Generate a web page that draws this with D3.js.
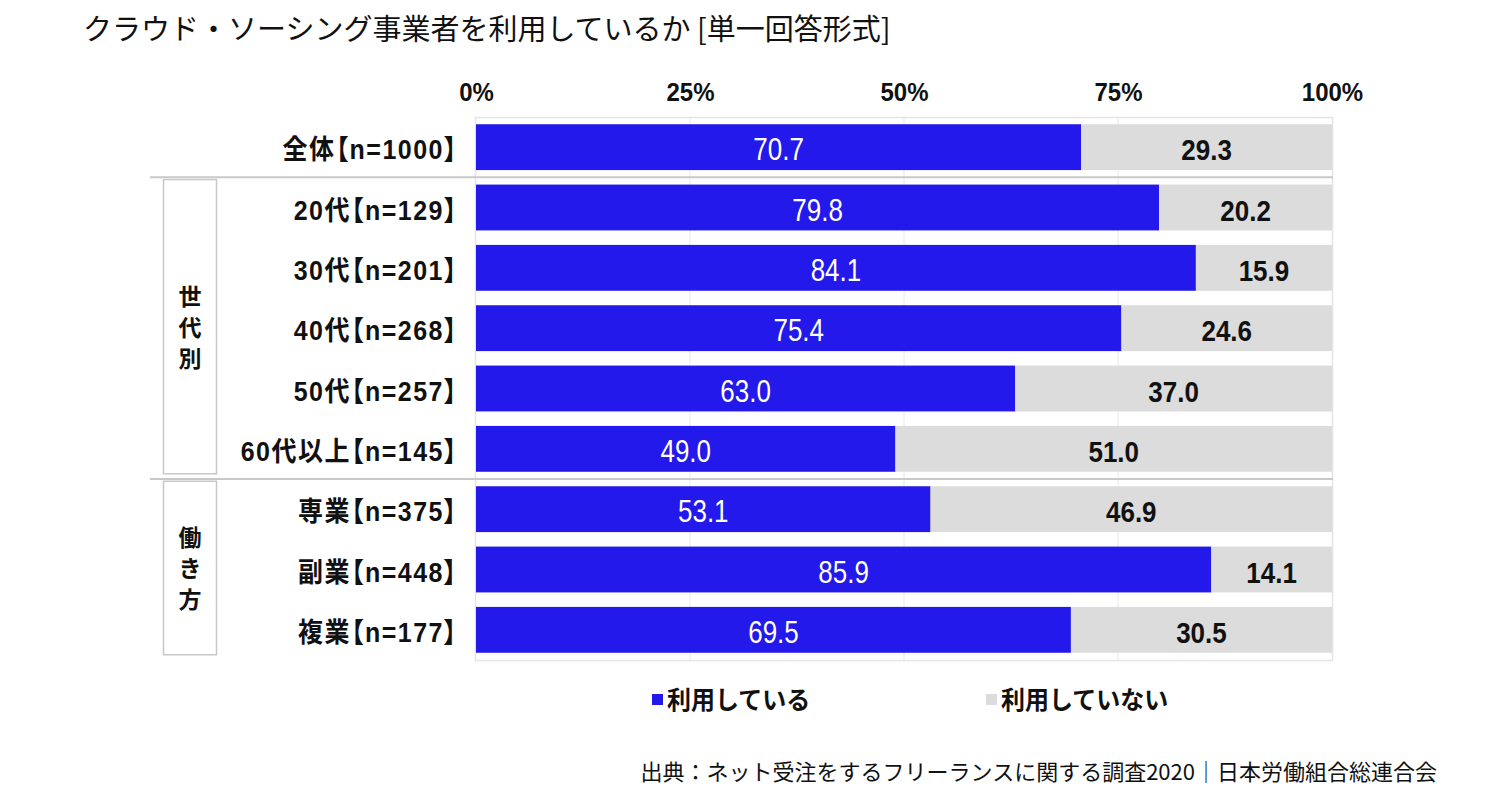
<!DOCTYPE html>
<html><head><meta charset="utf-8">
<script src="https://cdn.jsdelivr.net/npm/d3@7"></script>
<style>body{margin:0;background:#fff} text.palt{font-feature-settings:"palt" 1;}</style>
</head><body>
<svg id="chart" width="1500" height="799"></svg>
<script>
const categories = ["全体【n=1000】","20代【n=129】","30代【n=201】","40代【n=268】","50代【n=257】","60代以上【n=145】","専業【n=375】","副業【n=448】","複業【n=177】"];
const usingValues = [70.7, 79.8, 84.1, 75.4, 63.0, 49.0, 53.1, 85.9, 69.5];
const notUsingValues = [29.3, 20.2, 15.9, 24.6, 37.0, 51.0, 46.9, 14.1, 30.5];
const seriesNames = ["利用している", "利用していない"];
const tickValues = [0, 25, 50, 75, 100];
const groups = [{name: "世代別", from: 1, to: 5}, {name: "働き方", from: 6, to: 8}];

const colors = ["#2319EA", "#DCDCDC"];
const svg = d3.select("#chart");
const latin = "'Liberation Sans', Arial, 'Noto Sans CJK JP', sans-serif";
const jp = "'Noto Sans CJK JP', sans-serif";

function stretch(sel, s) {
  sel.each(function() {
    const t = d3.select(this);
    const tx = +t.attr("x") || 0, ty = +t.attr("y") || 0;
    t.attr("x", 0).attr("y", 0).attr("dy", null)
     .attr("transform", `translate(${tx},${ty}) scale(1,${s})`);
  });
  return sel;
}

const x = d3.scaleLinear().domain([0, 100]).range([476, 1332]);
const y = d3.scaleBand().domain(categories).range([117, 660]).paddingInner(0.24).paddingOuter(0.12);

// Title
svg.append("text").attr("x", 83).attr("y", 40).attr("font-family", jp).attr("font-size", 29)
  .attr("fill", "#111").text("クラウド・ソーシング事業者を利用しているか [単一回答形式]");

// plot border
svg.append("rect").attr("x", 475.5).attr("y", 117.5).attr("width", 857).attr("height", 543)
  .attr("fill", "none").attr("stroke", "#e4e4e4").attr("stroke-width", 1.5);

// gridlines
svg.append("g").selectAll("line").data(tickValues.slice(1, 4)).join("line")
  .attr("x1", d => x(d)).attr("x2", d => x(d)).attr("y1", 117).attr("y2", 660)
  .attr("stroke", "#e8e8e8").attr("stroke-width", 1);

// axis (top)
const axis = d3.axisTop(x).tickValues(tickValues).tickFormat(d => d + "%").tickSize(0).tickPadding(0);
const ag = svg.append("g").attr("transform", "translate(0,101)").call(axis);
ag.select(".domain").remove();
ag.selectAll("text").attr("font-family", latin).attr("font-weight", "bold").attr("font-size", 24).attr("fill", "#111");
stretch(ag.selectAll("text"), 1.08);

// separators
const sepY = [ (y(categories[0]) + y.bandwidth() + y(categories[1])) / 2,
               (y(categories[5]) + y.bandwidth() + y(categories[6])) / 2 ];
svg.append("g").selectAll("line").data(sepY).join("line")
  .attr("x1", 150).attr("x2", 1333).attr("y1", d => d).attr("y2", d => d)
  .attr("stroke", "#c8c8c8").attr("stroke-width", 2);

// bars
const rows = categories.map((c, i) => ({c, a: usingValues[i], b: notUsingValues[i]}));
const bars = svg.append("g");
bars.selectAll("rect.a").data(rows).join("rect").attr("class", "a")
  .attr("x", x(0)).attr("y", d => y(d.c)).attr("width", d => x(d.a) - x(0)).attr("height", y.bandwidth())
  .attr("fill", colors[0]);
bars.selectAll("rect.b").data(rows).join("rect").attr("class", "b")
  .attr("x", d => x(d.a)).attr("y", d => y(d.c)).attr("width", d => x(d.a + d.b) - x(d.a)).attr("height", y.bandwidth())
  .attr("fill", colors[1]);
stretch(bars.selectAll("text.a").data(rows).join("text").attr("class", "a")
  .attr("x", d => x(d.a / 2)).attr("y", d => y(d.c) + y.bandwidth() / 2 + 13)
  .attr("text-anchor", "middle").attr("font-family", latin).attr("font-size", 26).attr("fill", "#fff")
  .text(d => d.a.toFixed(1)), 1.18);
stretch(bars.selectAll("text.b").data(rows).join("text").attr("class", "b")
  .attr("x", d => x(d.a + d.b / 2)).attr("y", d => y(d.c) + y.bandwidth() / 2 + 13)
  .attr("text-anchor", "middle").attr("font-family", latin).attr("font-weight", "bold").attr("font-size", 26).attr("fill", "#111")
  .text(d => d.b.toFixed(1)), 1.15);

// category labels
stretch(svg.append("g").selectAll("text").data(categories).join("text").attr("class", "palt")
  .attr("x", 458).attr("y", d => y(d) + y.bandwidth() / 2 + 12).attr("text-anchor", "end")
  .attr("font-family", latin).attr("font-weight", "bold").attr("font-size", 25).attr("letter-spacing", 1.5)
  .attr("fill", "#111").text(d => d), 1.1);

// group boxes
groups.forEach(g => {
  const top = y(categories[g.from]) - 5;
  const bot = y(categories[g.to]) + y.bandwidth() + 2;
  svg.append("rect").attr("x", 163.5).attr("y", top).attr("width", 53).attr("height", bot - top)
    .attr("fill", "#fff").attr("stroke", "#c8c8c8").attr("stroke-width", 1.5);
  const chars = Array.from(g.name);
  const mid = (top + bot) / 2;
  const t = svg.append("text").attr("text-anchor", "middle").attr("font-family", jp).attr("font-weight", "bold")
    .attr("font-size", 23).attr("fill", "#111");
  t.selectAll("tspan").data(chars).join("tspan")
    .attr("x", 190).attr("y", (ch, k) => mid + (k - (chars.length - 1) / 2) * 31 + 9)
    .text(ch => ch);
});

// legend
const legX = [652, 986];
seriesNames.forEach((s, i) => {
  svg.append("rect").attr("x", legX[i]).attr("y", 694).attr("width", 11).attr("height", 11).attr("fill", colors[i]);
  stretch(svg.append("text").attr("x", legX[i] + 15).attr("y", 709).attr("font-family", jp).attr("font-weight", "bold")
    .attr("font-size", 24).attr("fill", "#111").text(s), 1.05);
});

// footer
svg.append("text").attr("x", 1437).attr("y", 780).attr("text-anchor", "end").attr("font-family", jp)
  .attr("font-size", 22).attr("fill", "#111").text("出典：ネット受注をするフリーランスに関する調査2020｜日本労働組合総連合会");
</script>
</body></html>
